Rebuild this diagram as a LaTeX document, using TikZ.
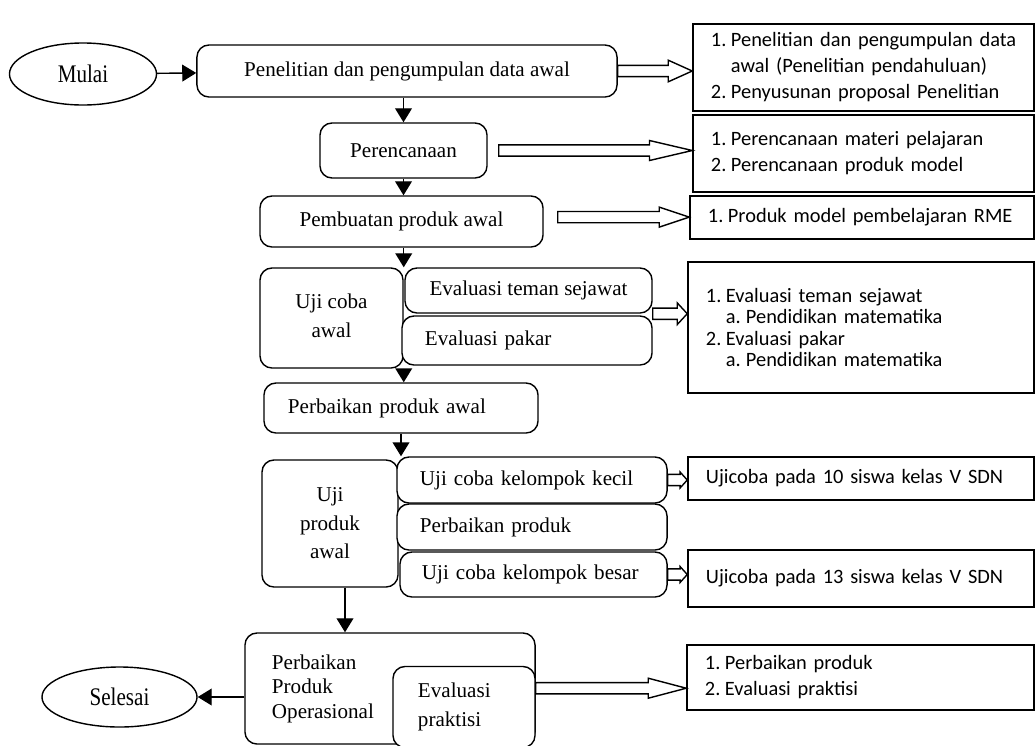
\documentclass[tikz,border=0pt]{standalone}
\usepackage{fontspec}
\usepackage{graphicx}
\setmainfont{Liberation Serif}
\newfontfamily\carlito{Carlito}
\usetikzlibrary{shapes.geometric,arrows.meta,calc}
\newcommand{\fatarrow}[4]{%
  \draw[fatline] let \p1=#3, \p2=#4 in
    (\x1,\y1+0.14cm) -- (\x2-#1,\y1+0.14cm) -- (\x2-#1,\y1+#2) -- (\x2,\y1)
    -- (\x2-#1,\y1-#2) -- (\x2-#1,\y1-0.14cm) -- (\x1,\y1-0.14cm) -- cycle;}
\newcommand{\nr}[1]{\makebox[0.5cm][l]{#1}}
\begin{document}
\begin{tikzpicture}[
        x=0.025cm, y=-0.025cm,
        line width=1pt,
        font=\fontsize{15}{21}\selectfont
    ]
    \tikzset{
        stepbox/.style = {rectangle, rounded corners=0.3cm, draw=black, fill=white, align=center, inner sep=0pt},
        leftbox/.style = {stepbox, align=left, inner xsep=0.575cm},
        endnode/.style = {ellipse, draw=black, fill=white, inner sep=0pt, minimum height=1.5cm},
        notebox/.style = {rectangle, draw=black, fill=white, align=left, inner xsep=0.45cm, inner ysep=0pt, font=\carlito\fontsize{14.5}{18.5}\selectfont},
        flow/.style = {-{Triangle[length=0.35cm,width=0.42cm]}},
        fatline/.style = {draw=black, fill=white, line width=1pt},
    }
    \useasboundingbox (0,0) rectangle (1036,745);
    \node[endnode, minimum width=3.675cm, minimum height=1.55cm] (mulai) at (83,74) {\scalebox{1}[1.2]{Mulai}};
    \node[stepbox, minimum width=10.5cm, minimum height=1.3cm] (b1) at (407,71) {Penelitian dan pengumpulan data awal};
    \node[stepbox, minimum width=4.175cm, minimum height=1.375cm] (b2) at (403.5,150.5) {Perencanaan};
    \node[stepbox, minimum width=7.075cm, minimum height=1.275cm] (b3) at (401.5,221.5) {Pembuatan produk awal};
    \node[stepbox, minimum width=3.575cm, minimum height=2.5cm] (b4) at (331.5,318) {\raisebox{0.12cm}{Uji coba}\\\raisebox{0.12cm}{awal}};
    \node[stepbox, minimum width=6.175cm, minimum height=1.125cm] (b5) at (528.5,290.5) {Evaluasi teman sejawat};
    \node[leftbox, text width=5.1cm, minimum height=1.225cm] (b6) at (527,340.5) {Evaluasi pakar};
    \node[leftbox, inner xsep=0.6cm, text width=5.65cm, minimum height=1.25cm] (b7) at (401,408) {Perbaikan produk awal};
    \node[stepbox, minimum width=3.4cm, minimum height=3.175cm, font=\fontsize{15}{20.3}\selectfont] (b8) at (330,523.5) {Uji\\produk\\awal};
    \node[leftbox, text width=5.6cm, minimum height=1.15cm] (b9) at (532,480) {Uji coba kelompok kecil};
    \node[leftbox, text width=5.6cm, minimum height=1.15cm] (b10) at (532,527) {Perbaikan produk};
    \node[leftbox, inner xsep=0.55cm, text width=5.575cm, minimum height=1.125cm] (b11) at (533.5,574.5) {Uji coba kelompok besar};
    \node[leftbox, inner xsep=0.675cm, text width=5.9cm, minimum height=2.775cm, font=\fontsize{15}{17.4}\selectfont] (b12) at (390,688.5) {Perbaikan\\Produk\\Operasional};
    \node[leftbox, inner xsep=0.625cm, text width=2.3cm, minimum height=2.025cm] (b13) at (464,707) {Evaluasi\\praktisi};
    \node[endnode, minimum width=3.875cm] (selesai) at (119.5,697) {\scalebox{1}[1.2]{Selesai}};
    \node[notebox, text width=7.625cm, minimum height=2.175cm] (r1) at (863.5,67.5) {\mbox{\nr{1.}Penelitian dan pengumpulan data}\\\hspace*{0.5cm}awal (Penelitian pendahuluan)\\\nr{2.}Penyusunan proposal Penelitian};
    \node[notebox, text width=7.625cm, minimum height=1.925cm] (r2) at (863.5,153.5) {\nr{1.}Perencanaan materi pelajaran\\\nr{2.}Perencanaan produk model};
    \node[notebox, text width=7.7cm, minimum height=1.075cm] (r3) at (862,217.5) {\mbox{\nr{1.}Produk model pembelajaran RME}};
    \node[notebox, text width=7.75cm, minimum height=3.275cm, font=\carlito\fontsize{14.5}{15}\selectfont] (r4) at (861,327.5) {\nr{1.}Evaluasi teman sejawat\\\hspace*{0.5cm}\nr{a.}Pendidikan matematika\\\nr{2.}Evaluasi pakar\\\hspace*{0.5cm}\nr{a.}Pendidikan matematika};
    \node[notebox, text width=7.75cm, minimum height=1.075cm] (r5) at (861,478.5) {Ujicoba pada 10 siswa kelas V SDN};
    \node[notebox, text width=7.75cm, minimum height=1.425cm] (r6) at (861,578.5) {Ujicoba pada 13 siswa kelas V SDN};
    \node[notebox, text width=7.775cm, minimum height=1.625cm] (r7) at (860.5,677.5) {\nr{1.}Perbaikan produk\\\nr{2.}Evaluasi praktisi};
    \draw[flow] (mulai) -- (b1);
    \draw[flow] (b2.north |- b1.south) -- (b2.north);
    \draw[flow] (b2.south) -- (b2.south |- b3.north);
    \draw[flow] (b4.north east |- b3.south) -- (b4.north east);
    \draw[flow] (b4.south east) -- (b4.south east |- b7.north);
    \draw[flow] (b7.south) -- (b7.south |- b9.north);
    \draw[flow] ([xshift=0.375cm]b8.south) -- ([xshift=0.375cm]b8.south |- b12.north);
    \draw[flow] (b12.west |- selesai.east) -- (selesai.east);
    \fatarrow{0.6cm}{0.27cm}{(b1.east)}{(b1.east -| r1.west)}
    \fatarrow{1.07cm}{0.25cm}{([xshift=0.275cm]b2.east)}{(b2.east -| r2.west)}
    \fatarrow{0.75cm}{0.25cm}{([xshift=0.35cm,yshift=0.11cm]b3.east)}{(b3.east -| r3.west)}
    \fatarrow{0.25cm}{0.27cm}{(b5.south east)}{(b5.south east -| r4.west)}
    \fatarrow{0.18cm}{0.2cm}{(b9.east)}{(b9.east -| r5.west)}
    \fatarrow{0.18cm}{0.2cm}{(b11.east)}{(b11.east -| r6.west)}
    \fatarrow{0.95cm}{0.25cm}{([yshift=0.47cm]b13.east)}{(b13.east -| r7.west)}
\end{tikzpicture}
\end{document}
